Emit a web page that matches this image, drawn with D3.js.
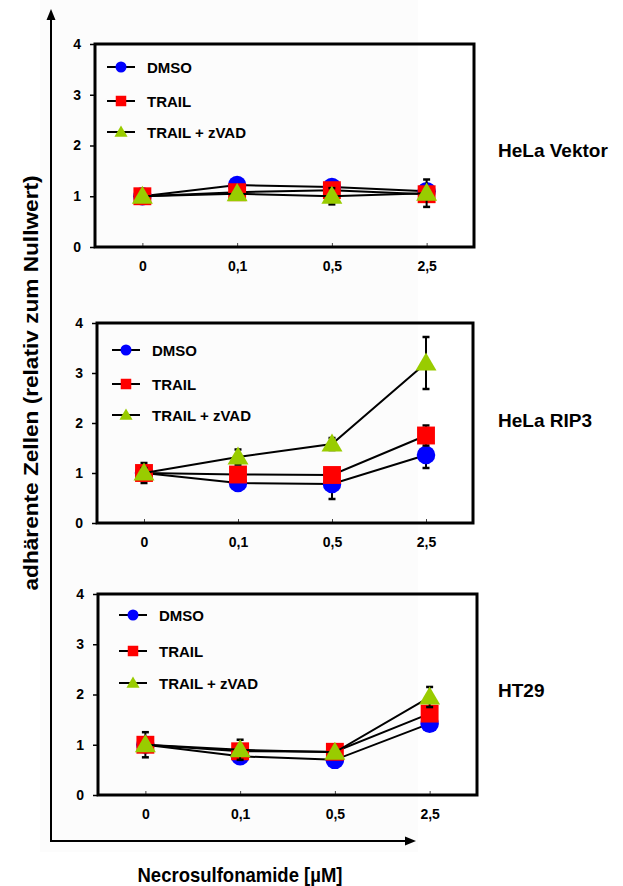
<!DOCTYPE html>
<html>
<head>
<meta charset="utf-8">
<script src="https://cdn.jsdelivr.net/npm/d3@7"></script>
<style>
  html, body { margin: 0; padding: 0; background: #fff; }
  svg { display: block; }
  text { font-family: "Liberation Sans", Arial, sans-serif; font-weight: bold; }
  .narrow { font-family: "Liberation Sans Narrow", "Arial Narrow", "Liberation Sans", sans-serif; font-stretch: condensed; }
</style>
</head>
<body>
<div id="chart"></div>
<script>
// ---- Daten ----
const doses = ["0", "0,1", "0,5", "2,5"];
const yTicks = [0, 1, 2, 3, 4];
const seriesNames = ["DMSO", "TRAIL", "TRAIL + zVAD"];
const panelNames = ["HeLa Vektor", "HeLa RIP3", "HT29"];

// HeLa Vektor
const vekDmso = [1.0, 1.22, 1.18, 1.10];
const vekTrail = [1.0, 1.08, 1.12, 1.04];
const vekZvad = [1.0, 1.05, 1.0, 1.06];
const vekDmsoErr = [0.03, 0.04, 0.05, 0.05];
const vekTrailErr = [0.03, 0.04, 0.05, 0.05];
const vekZvadErr = [0.03, 0.05, 0.16, 0.27];

// HeLa RIP3
const ripDmso = [1.0, 0.80, 0.78, 1.36];
const ripTrail = [1.0, 0.97, 0.96, 1.75];
const ripZvad = [1.0, 1.32, 1.58, 3.2];
const ripDmsoErr = [0.1, 0.05, 0.3, 0.26];
const ripTrailErr = [0.2, 0.05, 0.05, 0.2];
const ripZvadErr = [0.1, 0.15, 0.12, 0.52];

// HT29
const htDmso = [1.0, 0.77, 0.70, 1.42];
const htTrail = [1.0, 0.87, 0.86, 1.62];
const htZvad = [1.0, 0.90, 0.85, 1.95];
const htDmsoErr = [0.05, 0.05, 0.05, 0.05];
const htTrailErr = [0.25, 0.05, 0.05, 0.1];
const htZvadErr = [0.05, 0.2, 0.05, 0.2];

// ---- Layout ----
const W = 623, H = 886;
const colors = ["#0000ff", "#ff0000", "#99cc00"];
const shapes = [d3.symbolCircle, d3.symbolSquare, d3.symbolTriangle];

// Kasten je Panel: links, oben, rechts, unten + Legende + Panel-Titel
const panels = [
  { box: [95, 44, 474, 247], leg: { x: 107, y: [67, 101, 132] }, title: 157,
    vals: [vekDmso, vekTrail, vekZvad], errs: [vekDmsoErr, vekTrailErr, vekZvadErr] },
  { box: [97, 323, 473, 523], leg: { x: 112, y: [350, 384, 415] }, title: 427,
    vals: [ripDmso, ripTrail, ripZvad], errs: [ripDmsoErr, ripTrailErr, ripZvadErr] },
  { box: [98, 594, 477, 795], leg: { x: 119, y: [615, 651, 683] }, title: 697,
    vals: [htDmso, htTrail, htZvad], errs: [htDmsoErr, htTrailErr, htZvadErr] }
];

const svg = d3.select("#chart").append("svg").attr("width", W).attr("height", H);

// leicht getönter Hintergrund (eingefügtes Bild)
svg.append("rect").attr("x", 40).attr("y", 0).attr("width", 378).attr("height", 852)
  .attr("fill", "#fcfcfc");

// grosse Pfeil-Achsen
svg.append("line").attr("x1", 51).attr("x2", 51).attr("y1", 18).attr("y2", 842)
  .attr("stroke", "#000").attr("stroke-width", 2);
svg.append("path").attr("d", "M51,9 L46.5,20 L55.5,20 Z").attr("fill", "#000");
svg.append("line").attr("x1", 50).attr("x2", 407).attr("y1", 841).attr("y2", 841)
  .attr("stroke", "#000").attr("stroke-width", 2);
svg.append("path").attr("d", "M416,841 L405,836.5 L405,845.5 Z").attr("fill", "#000");

svg.append("text").attr("class", "narrow")
  .attr("transform", "translate(38,383) rotate(-90)")
  .attr("text-anchor", "middle")
  .attr("textLength", 415).attr("lengthAdjust", "spacingAndGlyphs")
  .style("font-size", "21px")
  .text("adhärente Zellen (relativ zum Nullwert)");

svg.append("text").attr("class", "narrow")
  .attr("x", 240).attr("y", 882)
  .attr("text-anchor", "middle")
  .attr("textLength", 205).attr("lengthAdjust", "spacingAndGlyphs")
  .style("font-size", "21px")
  .text("Necrosulfonamide [µM]");

panels.forEach((p, pi) => {
  const [x0, y0, x1, y1] = p.box;
  const x = d3.scalePoint().domain(doses).range([x0, x1]).padding(0.5);
  const y = d3.scaleLinear().domain([0, 4]).range([y1, y0]);
  const g = svg.append("g");

  // Y-Achse
  const ya = g.append("g").attr("transform", `translate(${x0},0)`)
    .call(d3.axisLeft(y).tickValues(yTicks).tickFormat(d3.format("d")).tickSize(5).tickPadding(9));
  ya.select(".domain").remove();
  ya.selectAll("line").attr("stroke", "#000").attr("stroke-width", 1.5);
  ya.selectAll("text").style("font-size", "14px").style("font-family", "Liberation Sans, Arial, sans-serif")
    .style("font-weight", "bold").attr("fill", "#000");

  // X-Achse
  const xa = g.append("g").attr("transform", `translate(0,${y1})`)
    .call(d3.axisBottom(x).tickSize(-4).tickPadding(14));
  xa.select(".domain").remove();
  xa.selectAll("line").attr("stroke", "#444").attr("stroke-width", 1);
  xa.selectAll("text").style("font-size", "14px").style("font-family", "Liberation Sans, Arial, sans-serif")
    .style("font-weight", "bold").attr("fill", "#000");

  // Rahmen
  g.append("rect").attr("x", x0).attr("y", y0).attr("width", x1 - x0).attr("height", y1 - y0)
    .attr("fill", "none").attr("stroke", "#000").attr("stroke-width", 3);

  // Legende
  seriesNames.forEach((name, si) => {
    const ly = p.leg.y[si];
    g.append("line").attr("x1", p.leg.x).attr("x2", p.leg.x + 28).attr("y1", ly).attr("y2", ly)
      .attr("stroke", "#000").attr("stroke-width", 2);
    g.append("path").attr("transform", `translate(${p.leg.x + 14},${ly + (si === 2 ? 1 : 0)})`)
      .attr("d", d3.symbol(shapes[si], si === 2 ? 75 : si === 1 ? 110 : 95)())
      .attr("fill", colors[si]);
    g.append("text").attr("x", p.leg.x + 40).attr("y", ly + 5.5)
      .style("font-size", "15px").text(name);
  });

  // Serien
  const line = d3.line().x((d, i) => x(doses[i])).y(d => y(d));
  p.vals.forEach((vals, si) => {
    const errs = p.errs[si];
    g.append("path").datum(vals).attr("d", line)
      .attr("fill", "none").attr("stroke", "#000").attr("stroke-width", 2);

    vals.forEach((v, i) => {
      const cx = x(doses[i]);
      const top = y(v + errs[i]), bot = y(v - errs[i]);
      g.append("line").attr("x1", cx).attr("x2", cx).attr("y1", top).attr("y2", bot)
        .attr("stroke", "#000").attr("stroke-width", 2);
      [top, bot].forEach(yy => g.append("line")
        .attr("x1", cx - 3.5).attr("x2", cx + 3.5).attr("y1", yy).attr("y2", yy)
        .attr("stroke", "#000").attr("stroke-width", 2.5));
    });

    g.selectAll(null).data(vals).join("path")
      .attr("transform", (d, i) => `translate(${x(doses[i])},${y(d) + (si === 2 ? 1.5 : 0)})`)
      .attr("d", d3.symbol(shapes[si], si === 2 ? 190 : si === 1 ? 320 : 270)())
      .attr("fill", colors[si]);
  });

  svg.append("text").attr("x", 498).attr("y", p.title)
    .style("font-size", "19px").text(panelNames[pi]);
});
</script>
</body>
</html>
